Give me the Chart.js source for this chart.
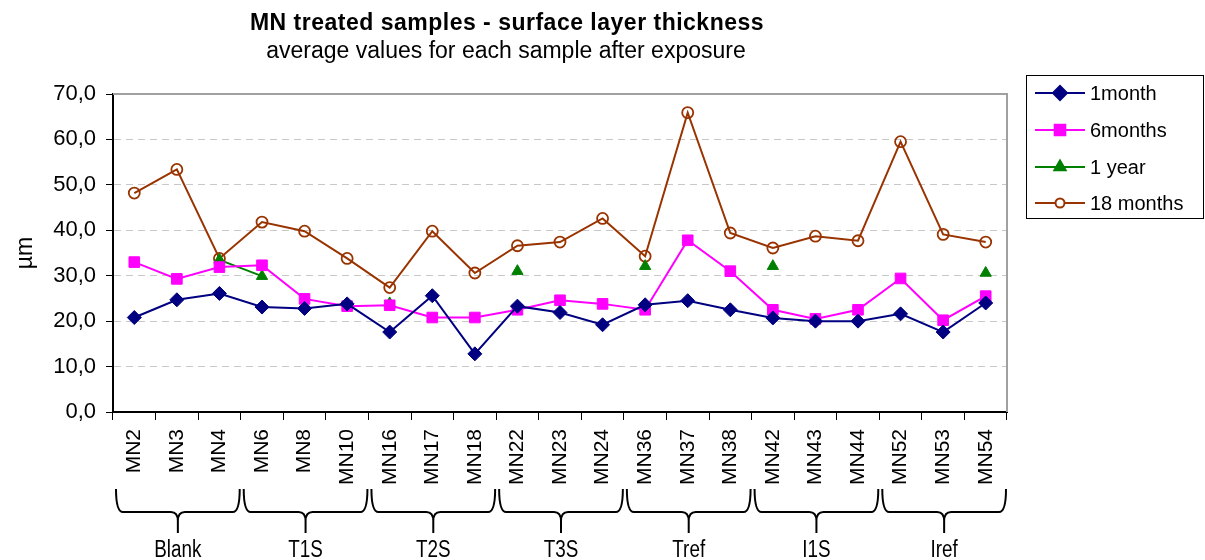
<!DOCTYPE html>
<html>
<head>
<meta charset="utf-8">
<title>MN treated samples - surface layer thickness</title>
<script src="https://cdn.jsdelivr.net/npm/chart.js@4/dist/chart.umd.min.js"></script>
<style>
  html, body { margin: 0; padding: 0; background: #fff; }
  canvas { display: block; }
</style>
</head>
<body>
<canvas id="thicknessChart" width="1205" height="560"></canvas>
<script>
// Samples on the x axis
const samples = ['MN2', 'MN3', 'MN4', 'MN6', 'MN8', 'MN10', 'MN16', 'MN17', 'MN18', 'MN22', 'MN23', 'MN24',
  'MN36', 'MN37', 'MN38', 'MN42', 'MN43', 'MN44', 'MN52', 'MN53', 'MN54'];

// Treatment groups (3 samples each)
const groupNames = ['Blank', 'T1S', 'T2S', 'T3S', 'Tref', 'I1S', 'Iref'];
const groupSize = 3;

// Average thickness (µm) after each exposure time
const oneMonth = [20.8, 24.7, 26.1, 23.1, 22.8, 23.8, 17.6, 25.6, 12.8, 23.3, 21.9, 19.2, 23.6, 24.5, 22.5, 20.7, 20.0, 20.0, 21.6, 17.6, 24.0];
const sixMonths = [33.0, 29.3, 31.9, 32.3, 24.9, 23.3, 23.5, 20.8, 20.8, 22.5, 24.6, 23.8, 22.5, 37.8, 31.0, 22.5, 20.5, 22.5, 29.4, 20.2, 25.5];
const oneYear = [null, null, 33.5, 29.9, null, null, 23.9, null, null, 31.0, null, null, 32.1, null, null, 32.1, null, null, null, null, 30.6];
const eighteenMonths = [48.2, 53.4, 33.8, 41.8, 39.8, 33.8, 27.4, 39.8, 30.6, 36.6, 37.4, 42.6, 34.3, 65.9, 39.4, 36.1, 38.7, 37.7, 59.5, 39.1, 37.4];

const FONT = "'Liberation Sans', Arial, sans-serif";

Chart.defaults.font.family = FONT;
Chart.defaults.color = '#000';

const series = [
  { label: '1month', data: oneMonth, color: '#000080', pointStyle: 'rectRot', radius: 7, fill: '#000080' },
  { label: '6months', data: sixMonths, color: '#ff00ff', pointStyle: 'rect', radius: 7.5, fill: '#ff00ff' },
  { label: '1 year', data: oneYear, color: '#008000', pointStyle: 'triangle', radius: 6.5, fill: '#008000' },
  { label: '18 months', data: eighteenMonths, color: '#993300', pointStyle: 'circle', radius: 5.5, fill: 'rgba(255,255,255,0)' }
];

// Titles, plot frame, legend and group braces
const extras = {
  id: 'extras',
  beforeDatasetsDraw(chart) {
    const { ctx, chartArea: a } = chart;
    ctx.save();
    ctx.strokeStyle = '#a0a0a0';
    ctx.lineWidth = 2;
    ctx.beginPath();
    ctx.moveTo(a.left, a.top);
    ctx.lineTo(a.right, a.top);
    ctx.lineTo(a.right, a.bottom);
    ctx.stroke();
    ctx.restore();
  },
  afterDraw(chart) {
    const { ctx, scales } = chart;
    const x = scales.x;
    ctx.save();

    // titles
    ctx.fillStyle = '#000';
    ctx.textAlign = 'center';
    ctx.textBaseline = 'middle';
    ctx.font = 'bold 23px ' + FONT;
    ctx.letterSpacing = '0.5px';
    ctx.fillText('MN treated samples - surface layer thickness', 507, 24);
    ctx.letterSpacing = '0px';
    ctx.font = '23px ' + FONT;
    ctx.fillText('average values for each sample after exposure', 506, 52);

    // legend
    ctx.strokeStyle = '#000';
    ctx.lineWidth = 1;
    ctx.strokeRect(1026.5, 75.5, 177, 143);
    const rowY = [93, 130, 167, 203];
    series.forEach((s, i) => {
      const y = rowY[i];
      ctx.strokeStyle = s.color;
      ctx.lineWidth = 2;
      ctx.beginPath();
      ctx.moveTo(1035, y);
      ctx.lineTo(1085, y);
      ctx.stroke();
      ctx.fillStyle = s.pointStyle === 'circle' ? '#fff' : s.fill;
      Chart.helpers.drawPoint(ctx, {
        pointStyle: s.pointStyle,
        radius: s.pointStyle === 'circle' ? 4.5 : s.radius,
        borderWidth: s.pointStyle === 'circle' ? 1.5 : 1,
        rotation: 0
      }, 1060, y);
      ctx.fillStyle = '#000';
      ctx.textAlign = 'left';
      ctx.font = '20px ' + FONT;
      ctx.fillText(s.label, 1090, y + 1);
    });

    // group braces
    const half = (x.getPixelForValue(1) - x.getPixelForValue(0)) / 2;
    const top = 489, mid = 512, tip = 533, r = 7;
    ctx.strokeStyle = '#000';
    ctx.lineWidth = 2;
    groupNames.forEach((name, g) => {
      const x1 = x.getPixelForValue(g * groupSize) - half + 3;
      const x2 = x.getPixelForValue(g * groupSize + groupSize - 1) + half - 1;
      const xm = (x1 + x2) / 2;
      ctx.beginPath();
      ctx.moveTo(x1, top);
      ctx.quadraticCurveTo(x1, mid, x1 + r, mid);
      ctx.lineTo(xm - r, mid);
      ctx.quadraticCurveTo(xm, mid, xm, mid + r + 2);
      ctx.lineTo(xm, tip);
      ctx.moveTo(x2, top);
      ctx.quadraticCurveTo(x2, mid, x2 - r, mid);
      ctx.lineTo(xm + r, mid);
      ctx.quadraticCurveTo(xm, mid, xm, mid + r + 2);
      ctx.stroke();

      // narrow label
      ctx.save();
      ctx.translate(xm, 551);
      ctx.scale(0.82, 1);
      ctx.fillStyle = '#000';
      ctx.textAlign = 'center';
      ctx.textBaseline = 'middle';
      ctx.font = '23px ' + FONT;
      ctx.fillText(name, 0, 0);
      ctx.restore();
    });
    ctx.restore();
  }
};

new Chart(document.getElementById('thicknessChart'), {
  type: 'line',
  data: {
    labels: samples,
    datasets: series.map(s => ({
      label: s.label,
      data: s.data,
      borderColor: s.color,
      backgroundColor: s.fill,
      pointBackgroundColor: s.fill,
      pointBorderColor: s.color,
      pointStyle: s.pointStyle,
      pointRadius: s.radius,
      pointBorderWidth: s.pointStyle === 'circle' ? 1.8 : 1,
      borderWidth: 2,
      tension: 0,
      spanGaps: false
    }))
  },
  options: {
    responsive: false,
    animation: false,
    layout: { padding: { top: 94, right: 198, bottom: 0, left: 0 } },
    plugins: {
      legend: { display: false },
      title: { display: false },
      tooltip: { enabled: false }
    },
    scales: {
      x: {
        offset: true,
        afterFit: (s) => { s.height = 148; },
        grid: { offset: true, drawOnChartArea: false, drawTicks: true, tickLength: 8, tickColor: '#000', tickWidth: 1 },
        border: { display: true, color: '#000', width: 2 },
        ticks: { autoSkip: false, minRotation: 90, maxRotation: 90, padding: 9, font: { size: 21 }, color: '#000' }
      },
      y: {
        min: 0,
        max: 70,
        afterFit: (s) => { s.width = 113; },
        ticks: {
          stepSize: 10,
          padding: 10,
          font: { size: 22 },
          color: '#000',
          callback: (v) => Number(v).toFixed(1).replace('.', ',')
        },
        grid: {
          color: (c) => (c.tick && (c.tick.value === 0 || c.tick.value === 70)) ? 'rgba(0,0,0,0)' : '#c8c8c8',
          tickColor: '#000',
          tickLength: 7,
          tickWidth: 1,
          lineWidth: 1
        },
        border: { display: true, color: '#000', width: 2, dash: [7, 5] },
        title: { display: true, text: 'µm', font: { size: 23 }, color: '#000', padding: { top: 12, bottom: 0 } }
      }
    }
  },
  plugins: [extras]
});
</script>
</body>
</html>
